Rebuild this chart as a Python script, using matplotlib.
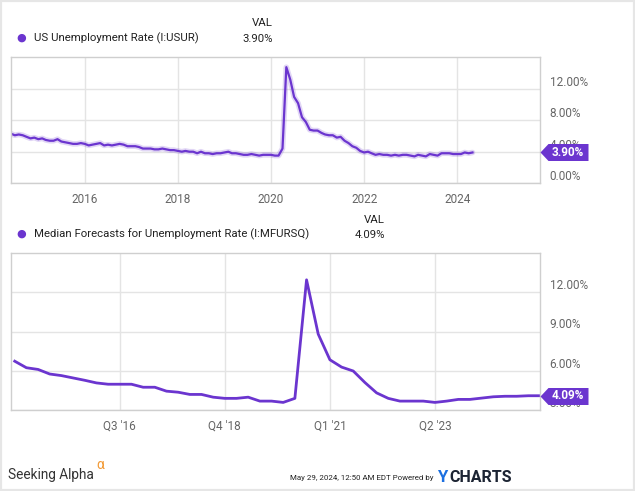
import numpy as np
import pandas as pd
import matplotlib
matplotlib.use("Agg")
import matplotlib.pyplot as plt
from matplotlib import font_manager
from matplotlib.patches import Rectangle

plt.rcParams['font.family'] = ['Roboto', 'DejaVu Sans']

# US unemployment rate, monthly (month-end dates), May 2014 - Apr 2024
usur_dates = pd.date_range("2014-05-31", "2024-04-30", freq="ME")
usur = [6.3, 6.1, 6.2, 6.1, 5.9, 5.7, 5.8, 5.6,
        5.7, 5.5, 5.4, 5.4, 5.6, 5.3, 5.2, 5.1, 5.0, 5.0, 5.1, 5.0,
        4.8, 4.9, 5.0, 5.1, 4.8, 4.9, 4.8, 4.9, 5.0, 4.9, 4.7, 4.7,
        4.7, 4.6, 4.4, 4.4, 4.4, 4.3, 4.3, 4.4, 4.3, 4.2, 4.2, 4.1,
        4.0, 4.1, 4.0, 4.0, 3.8, 4.0, 3.8, 3.8, 3.7, 3.8, 3.8, 3.9,
        4.0, 3.8, 3.8, 3.7, 3.6, 3.6, 3.7, 3.6, 3.5, 3.6, 3.6, 3.6,
        3.5, 3.5, 4.4, 14.8, 13.2, 11.0, 10.2, 8.4, 7.8, 6.8, 6.7, 6.7,
        6.4, 6.2, 6.1, 6.1, 5.8, 5.9, 5.4, 5.1, 4.7, 4.5, 4.1, 3.9,
        4.0, 3.8, 3.6, 3.7, 3.6, 3.6, 3.5, 3.6, 3.5, 3.6, 3.6, 3.5,
        3.4, 3.6, 3.5, 3.4, 3.7, 3.6, 3.5, 3.8, 3.8, 3.8, 3.7, 3.7,
        3.7, 3.9, 3.8, 3.9]

# median forecasts, quarterly, index 0 = Q2 '14
mfursq = [6.73, 6.23, 6.10, 5.75, 5.63, 5.45, 5.27, 5.07, 4.97, 4.97,
          4.97, 4.74, 4.74, 4.44, 4.36, 4.19, 4.19, 3.98, 3.89, 3.89,
          3.98, 3.68, 3.68, 3.58, 3.89, 12.95, 8.8, 6.84, 6.28, 5.98,
          5.10, 4.31, 3.89, 3.68, 3.68, 3.68, 3.58, 3.68, 3.81, 3.81,
          3.91, 4.01, 4.05, 4.05, 4.09, 4.09]
q_idx = np.arange(len(mfursq))

top_years = [2016, 2018, 2020, 2022, 2024]
top_yticks = [0, 4, 8, 12]
bot_qticks = [9, 18, 27, 36]
bot_qlabels = ["Q3 '16", "Q4 '18", "Q1 '21", "Q2 '23"]
bot_yticks = [3, 6, 9, 12]

purple = '#6b35cf'
grid_c = '#e4e4e4'
spine_c = '#cfcfcf'
tick_c = '#666666'

# narrow font for the footer stamp if there is one
try:
    font_manager.findfont('Liberation Sans Narrow', fallback_to_default=False)
    narrow = 'Liberation Sans Narrow'
    narrow_size = 7.4
except Exception:
    narrow = 'Roboto'
    narrow_size = 5.7

fig = plt.figure(figsize=(6.35, 4.91), dpi=100)

# light outer border
fig.patches.append(Rectangle((0, 0), 1, 1, transform=fig.transFigure,
                             fill=False, edgecolor='#e6e6e6', linewidth=3))


def style_axes(ax):
    for s in ax.spines.values():
        s.set_color(spine_c)
        s.set_linewidth(1)
    ax.grid(True, color=grid_c, linewidth=1)
    ax.set_axisbelow(True)
    ax.tick_params(length=0, colors=tick_c, labelsize=8.5)
    ax.yaxis.tick_right()
    ax.tick_params(axis='y', pad=7)
    ax.tick_params(axis='x', pad=7)
    for lab in ax.get_yticklabels():
        lab.set_va('bottom')


def value_tag(ax, y, text):
    # pentagon tag pointing left at the right edge of the axes
    verts = [(0, 0), (8, 8.5), (48, 8.5), (48, -8.5), (8, -8.5), (0, 0)]
    ms = 48 / 0.5 * 72 / 100
    ax.plot([1], [y], marker=verts, markersize=ms, color=purple,
            transform=ax.get_yaxis_transform(), clip_on=False, zorder=10,
            markeredgewidth=0)
    ax.annotate(text, xy=(1, y), xycoords=ax.get_yaxis_transform(),
                xytext=(28, 0), textcoords='offset pixels', ha='center',
                va='center', color='white', fontsize=8.5, fontweight='bold',
                zorder=11, annotation_clip=False)


# top chart
ax1 = fig.add_axes([11 / 635, 1 - 183 / 491, 529 / 635, 126 / 491])
ax1.plot(usur_dates, usur, color=purple, linewidth=4, alpha=0.2,
         solid_capstyle='round')
ax1.plot(usur_dates, usur, color=purple, linewidth=1.6)
ax1.set_xlim(pd.Timestamp("2014-05-31"), pd.Timestamp("2025-10-12"))
ax1.set_ylim(0, 16.1)
ax1.set_xticks([pd.Timestamp(f"{y}-01-01") for y in top_years])
ax1.set_xticklabels([str(y) for y in top_years])
ax1.set_yticks(top_yticks)
ax1.set_yticklabels([f"{v:.2f}%" for v in top_yticks])
style_axes(ax1)
value_tag(ax1, usur[-1], f"{usur[-1]:.2f}%")

# bottom chart
ax2 = fig.add_axes([11 / 635, 1 - 410 / 491, 529 / 635, 157 / 491])
ax2.plot(q_idx, mfursq, color=purple, linewidth=2)
ax2.set_xlim(-0.32, 45)
ax2.set_ylim(3, 15)
ax2.set_xticks(bot_qticks)
ax2.set_xticklabels(bot_qlabels)
ax2.set_yticks(bot_yticks)
ax2.set_yticklabels([f"{v:.2f}%" for v in bot_yticks])
style_axes(ax2)
value_tag(ax2, mfursq[-1], f"{mfursq[-1]:.2f}%")


def px(x, y):
    return x / 635, 1 - y / 491


# legends
fig.text(*px(21, 38), "\u25CF", color=purple, fontsize=8, ha='center', va='center')
fig.text(*px(34, 38), "US Unemployment Rate (I:USUR)", fontsize=8.2,
         color='#222222', va='center')
fig.text(*px(273, 23), "VAL", fontsize=8.2, color='#222222', ha='right', va='center')
fig.text(*px(273, 39), "3.90%", fontsize=8.2, color='#222222', ha='right', va='center')

fig.text(*px(21, 234), "\u25CF", color=purple, fontsize=8, ha='center', va='center')
fig.text(*px(34, 234), "Median Forecasts for Unemployment Rate (I:MFURSQ)",
         fontsize=8.2, color='#222222', va='center')
fig.text(*px(385, 220), "VAL", fontsize=8.2, color='#222222', ha='right', va='center')
fig.text(*px(385, 235), "4.09%", fontsize=8.2, color='#222222', ha='right', va='center')

# footer
fig.text(*px(8, 475), "Seeking Alpha", fontsize=9.8, color='#333333', va='center')
fig.text(*px(96, 465), "\u03B1", fontsize=10, color='#f29b38', va='center')
fig.text(*px(434, 478), "May 29, 2024, 12:50 AM EDT Powered by", fontsize=narrow_size,
         family=narrow, color='#222222', ha='right', va='center')
fig.text(*px(437, 477), "Y", fontsize=12, color='#1b6fe0', fontweight='bold', va='center')
fig.text(*px(449, 477), "CHARTS", fontsize=11.5, color='#1c2433', fontweight='bold', va='center')

fig.savefig("out.png", dpi=100)
